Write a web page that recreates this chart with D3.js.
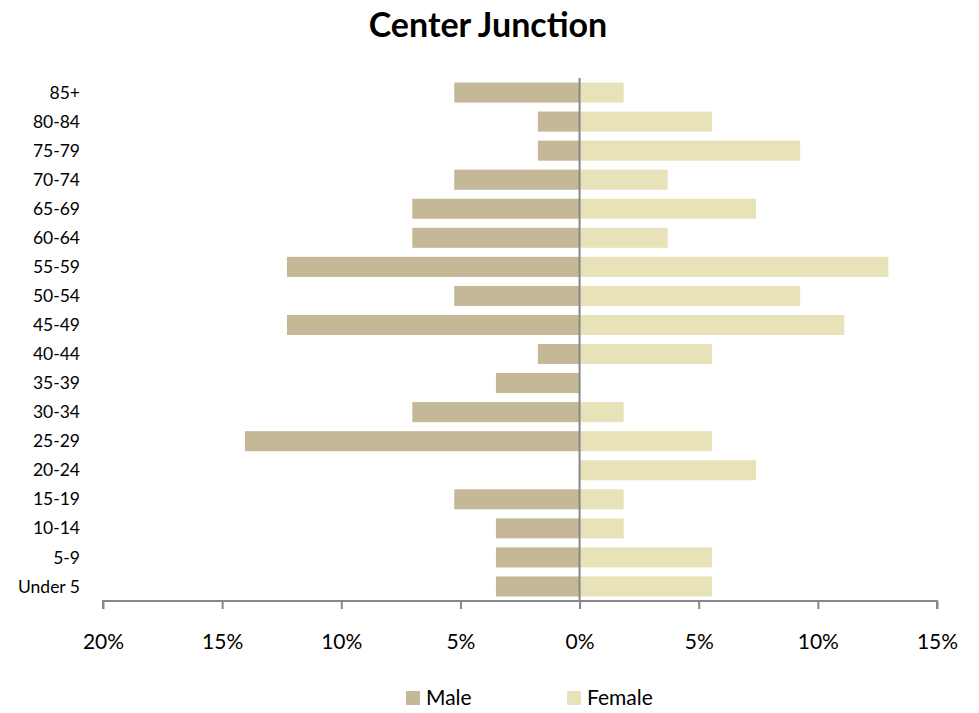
<!DOCTYPE html>
<html>
<head>
<meta charset="utf-8">
<script src="https://cdn.jsdelivr.net/npm/d3@7"></script>
<style>
    body { margin: 0; background: #fff; }
    svg { display: block; font-family: Lato, "Open Sans", sans-serif; }
</style>
</head>
<body>
<svg id="chart" width="979" height="713"></svg>
<script>
// age groups, top to bottom
const ageGroups = ["85+", "80-84", "75-79", "70-74", "65-69", "60-64", "55-59", "50-54", "45-49",
    "40-44", "35-39", "30-34", "25-29", "20-24", "15-19", "10-14", "5-9", "Under 5"];

// share of each sex in percent
const malePct = [5.26, 1.75, 1.75, 5.26, 7.02, 7.02, 12.28, 5.26, 12.28,
    1.75, 3.51, 7.02, 14.04, 0, 5.26, 3.51, 3.51, 3.51];
const femalePct = [1.85, 5.56, 9.26, 3.70, 7.41, 3.70, 12.96, 9.26, 11.11,
    5.56, 0, 1.85, 5.56, 7.41, 1.85, 1.85, 5.56, 5.56];

const tickValues = [-20, -15, -10, -5, 0, 5, 10, 15];
const seriesNames = ["Male", "Female"];
const colors = { Male: "#c4b896", Female: "#e8e2b8" };

const svg = d3.select("#chart");
const margin = { top: 78, right: 42, bottom: 112, left: 103 };
const width = 979 - margin.left - margin.right;
const height = 713 - margin.top - margin.bottom;

const x = d3.scaleLinear().domain([-20, 15]).range([0, width]);
const y = d3.scaleBand().domain(ageGroups).range([0, height]).paddingInner(0.31).paddingOuter(0.155);

const g = svg.append("g").attr("transform", `translate(${margin.left},${margin.top})`);

// title
svg.append("text")
    .attr("x", 488)
    .attr("y", 37)
    .attr("text-anchor", "middle")
    .attr("font-size", 34)
    .attr("font-weight", "bold")
    .text("Center Junction");

const rows = ageGroups.map((name, i) => ({ name: name, male: malePct[i], female: femalePct[i] }));

g.selectAll("rect.male")
    .data(rows)
    .join("rect")
    .attr("class", "male")
    .attr("x", d => x(-d.male))
    .attr("y", d => y(d.name))
    .attr("width", d => x(0) - x(-d.male))
    .attr("height", y.bandwidth())
    .attr("fill", colors.Male);

g.selectAll("rect.female")
    .data(rows)
    .join("rect")
    .attr("class", "female")
    .attr("x", x(0))
    .attr("y", d => y(d.name))
    .attr("width", d => x(d.female) - x(0))
    .attr("height", y.bandwidth())
    .attr("fill", colors.Female);

// zero line
g.append("line")
    .attr("x1", x(0)).attr("x2", x(0))
    .attr("y1", 0).attr("y2", height)
    .attr("stroke", "#888").attr("stroke-width", 2);

// category labels
g.selectAll("text.cat")
    .data(ageGroups)
    .join("text")
    .attr("class", "cat")
    .attr("x", -23)
    .attr("y", d => y(d) + y.bandwidth() / 2)
    .attr("dy", "0.35em")
    .attr("text-anchor", "end")
    .attr("font-size", 17.5)
    .text(d => d);

// x axis
const xAxis = d3.axisBottom(x)
    .tickValues(tickValues)
    .tickSize(8)
    .tickPadding(25)
    .tickFormat(d => Math.abs(d) + "%");

const ax = g.append("g")
    .attr("transform", `translate(0,${height})`)
    .call(xAxis);
ax.select(".domain").attr("stroke", "#888").attr("stroke-width", 2).attr("d", `M0,8V0H${width}V8`);
ax.selectAll(".tick line").attr("stroke", "#888").attr("stroke-width", 2);
ax.selectAll(".tick text").attr("font-size", 21).attr("fill", "#000").attr("font-family", "Lato, sans-serif");

// legend
const legend = svg.append("g").attr("transform", "translate(406,698)");
const item = legend.selectAll("g")
    .data(seriesNames)
    .join("g")
    .attr("transform", (d, i) => `translate(${i * 161},0)`);
item.append("rect")
    .attr("x", 0).attr("y", -7)
    .attr("width", 14).attr("height", 14)
    .attr("fill", d => colors[d]);
item.append("text")
    .attr("x", 20)
    .attr("dy", "0.35em")
    .attr("font-size", 21)
    .text(d => d);
</script>
</body>
</html>
